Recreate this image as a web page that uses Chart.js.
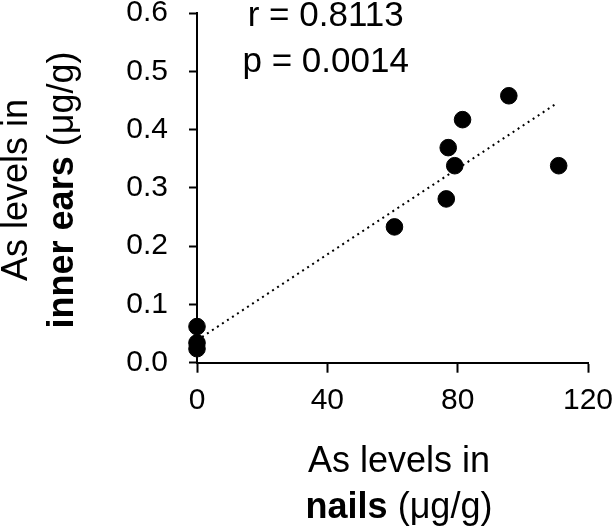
<!DOCTYPE html>
<html>
<head>
<meta charset="utf-8">
<script src="https://cdn.jsdelivr.net/npm/chart.js@4"></script>
<style>
    html, body { margin: 0; padding: 0; background: #fff; }
    #wrap { width: 615px; height: 530px; }
</style>
</head>
<body>
<div id="wrap"><canvas id="chart1"></canvas></div>
<script>
// values
const nailsLevels = [0, 0, 0, 60.6, 76.5, 77.1, 79.1, 81.5, 95.7, 111];
const earLevels = [0.062, 0.034, 0.024, 0.233, 0.281, 0.369, 0.338, 0.417, 0.458, 0.338];
const trendX = [0, 110.4];
const trendY = [0.0385, 0.445];
const xTicks = [0, 40, 80, 120];
const yTicks = [0.0, 0.1, 0.2, 0.3, 0.4, 0.5, 0.6];
const statLines = ['r = 0.8113', 'p = 0.0014'];

const FONT = "'Liberation Sans', Arial, sans-serif";

// axis titles with a bold part, drawn as canvas text
const titlesPlugin = {
    id: 'titles',
    afterDraw(chart) {
        const ctx = chart.ctx;
        const xs = chart.scales.x, ys = chart.scales.y;

        function drawParts(parts, cx, cy) {
            let total = 0;
            parts.forEach(p => {
                ctx.font = (p.bold ? 'bold ' : '') + '36px ' + FONT;
                p.w = ctx.measureText(p.text).width;
                total += p.w;
            });
            let x = cx - total / 2;
            parts.forEach(p => {
                ctx.font = (p.bold ? 'bold ' : '') + '36px ' + FONT;
                ctx.fillText(p.text, x, cy);
                x += p.w;
            });
        }

        ctx.save();
        ctx.fillStyle = '#000';
        ctx.textAlign = 'left';
        ctx.textBaseline = 'alphabetic';

        // x axis title
        drawParts([{ text: 'As levels in' }], 399, 472);
        drawParts([{ text: 'nails', bold: true }, { text: ' (μg/g)' }], 399, 518);

        // y axis title
        ctx.save();
        ctx.translate(0, 190);
        ctx.rotate(-Math.PI / 2);
        drawParts([{ text: 'As levels in' }], 0, 27);
        drawParts([{ text: 'inner ears', bold: true }, { text: ' (μg/g)' }], 0, 73);
        ctx.restore();

        // statistics
        ctx.font = '35px ' + FONT;
        ctx.textAlign = 'center';
        ctx.fillText(statLines[0], xs.getPixelForValue(39.5), ys.getPixelForValue(0.577));
        ctx.fillText(statLines[1], xs.getPixelForValue(39.5), ys.getPixelForValue(0.498));
        ctx.restore();
    }
};

function noPad(scale) {
    scale.paddingTop = 0;
    scale.paddingBottom = 0;
    scale.paddingLeft = 0;
    scale.paddingRight = 0;
}

new Chart(document.getElementById('chart1'), {
    type: 'scatter',
    data: {
        datasets: [{
            type: 'line',
            data: trendX.map((x, i) => ({ x: x, y: trendY[i] })),
            borderColor: '#000',
            borderWidth: 2,
            borderDash: [2, 4],
            pointRadius: 0,
            fill: false,
            clip: false,
            order: 2
        }, {
            data: nailsLevels.map((x, i) => ({ x: x, y: earLevels[i] })),
            backgroundColor: '#000',
            borderColor: '#000',
            pointRadius: 8.3,
            pointHoverRadius: 8.3,
            clip: false,
            order: 1
        }]
    },
    options: {
        responsive: true,
        maintainAspectRatio: false,
        animation: false,
        layout: { padding: { top: 13, right: 27, left: 0, bottom: 0 } },
        plugins: {
            legend: { display: false },
            tooltip: { enabled: false }
        },
        scales: {
            x: {
                type: 'linear',
                min: 0,
                max: 120,
                afterBuildTicks: scale => { scale.ticks = xTicks.map(v => ({ value: v })); },
                afterFit: scale => { scale.height = 167.3; noPad(scale); },
                grid: { drawOnChartArea: false, drawTicks: true, tickLength: 10, tickWidth: 2, tickColor: '#000' },
                border: { color: '#000', width: 2 },
                ticks: { color: '#000', padding: 10, font: { family: FONT, size: 30 } }
            },
            y: {
                type: 'linear',
                min: 0,
                max: 0.6,
                afterBuildTicks: scale => { scale.ticks = yTicks.map(v => ({ value: v })); },
                afterFit: scale => { scale.width = 197; noPad(scale); },
                grid: { drawOnChartArea: false, drawTicks: true, tickLength: 8, tickWidth: 2, tickColor: '#000' },
                border: { color: '#000', width: 2 },
                ticks: {
                    color: '#000',
                    padding: 21,
                    font: { family: FONT, size: 30 },
                    callback: v => v.toFixed(1)
                }
            }
        }
    },
    plugins: [titlesPlugin]
});
</script>
</body>
</html>
